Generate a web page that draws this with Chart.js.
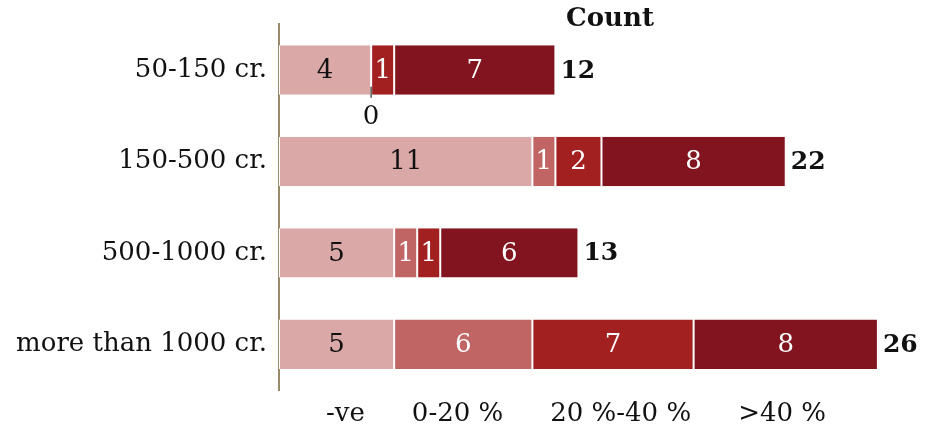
<!DOCTYPE html>
<html>
<head>
<meta charset="utf-8">
<script src="https://cdn.jsdelivr.net/npm/chart.js@4/dist/chart.umd.min.js"></script>
<style>
  html, body { margin: 0; padding: 0; background: #ffffff; }
  #wrap { width: 941px; height: 428px; }
</style>
</head>
<body>
<div id="wrap"><canvas id="chart"></canvas></div>
<script>
// Company size bands and the count of companies per growth bucket
const categories = ['50-150 cr.', '150-500 cr.', '500-1000 cr.', 'more than 1000 cr.'];
const seriesNames = ['-ve', '0-20 %', '20 %-40 %', '>40 %'];
const negative = [4, 11, 5, 5];
const upTo20 = [0, 1, 1, 6];
const from20to40 = [1, 2, 1, 7];
const above40 = [7, 8, 6, 8];
const totals = [12, 22, 13, 26];

const FONT = '"DejaVu Serif", "Liberation Serif", serif';
const colors = ['#dba8a8', '#c06464', '#a32021', '#82141f'];
const labelColors = ['#111111', '#ffffff', '#ffffff', '#ffffff'];

const seriesValues = [negative, upTo20, from20to40, above40];

const datasets = seriesNames.map((name, i) => ({
  label: name,
  data: seriesValues[i],
  backgroundColor: colors[i],
  borderColor: '#ffffff',
  borderWidth: { left: 1, right: 1, top: 0, bottom: 0 },
  borderSkipped: false,
  barPercentage: 0.9,
  categoryPercentage: 0.6
}));

// Value labels inside segments, leader label for empty segments, bold totals at bar ends
const valueLabels = {
  id: 'valueLabels',
  afterDatasetsDraw(chart) {
    const ctx = chart.ctx;
    ctx.save();
    ctx.textBaseline = 'middle';
    chart.data.datasets.forEach((ds, di) => {
      const meta = chart.getDatasetMeta(di);
      meta.data.forEach((el, i) => {
        const v = ds.data[i];
        const { x, y, base, height } = el.getProps(['x', 'y', 'base', 'height'], true);
        ctx.font = '26px ' + FONT;
        if (v > 0) {
          ctx.fillStyle = labelColors[di];
          ctx.textAlign = 'center';
          ctx.fillText(String(v), (x + base) / 2, y + 1);
        } else {
          const bottom = y + height / 2;
          ctx.strokeStyle = '#555555';
          ctx.lineWidth = 1.5;
          ctx.beginPath();
          ctx.moveTo(x, bottom - 8);
          ctx.lineTo(x, bottom + 3);
          ctx.stroke();
          ctx.fillStyle = '#111111';
          ctx.textAlign = 'center';
          ctx.fillText(String(v), x, bottom + 23);
        }
      });
    });
    const lastMeta = chart.getDatasetMeta(chart.data.datasets.length - 1);
    lastMeta.data.forEach((el, i) => {
      ctx.font = 'bold 25px ' + FONT;
      ctx.fillStyle = '#111111';
      ctx.textAlign = 'left';
      ctx.fillText(String(totals[i]), el.x + 5, el.y + 1);
    });
    ctx.restore();
  }
};

new Chart(document.getElementById('chart'), {
  type: 'bar',
  data: { labels: categories, datasets },
  options: {
    indexAxis: 'y',
    responsive: true,
    maintainAspectRatio: false,
    animation: false,
    layout: { padding: { left: 0, right: 0, top: 0, bottom: -9 } },
    scales: {
      x: {
        stacked: true,
        display: false,
        min: 0,
        max: 28.74
      },
      y: {
        stacked: true,
        grid: { display: false, drawTicks: false },
        border: { display: true, color: '#998b69', width: 2 },
        ticks: {
          color: '#111111',
          padding: 12,
          font: { family: FONT, size: 26, lineHeight: 0.95 }
        },
        afterFit(scale) { scale.width = 279; }
      }
    },
    plugins: {
      title: {
        display: true,
        text: 'Count',
        fullSize: false,
        color: '#111111',
        font: { family: FONT, size: 26, weight: 'bold', lineHeight: 0.6 },
        padding: { top: 7, bottom: -3 }
      },
      legend: {
        display: true,
        position: 'bottom',
        align: 'start',
        fullSize: false,
        labels: {
          color: '#111111',
          font: { family: FONT, size: 26 },
          boxWidth: 23,
          boxHeight: 1,
          padding: 11,
          generateLabels(chart) {
            return chart.data.datasets.map((ds, i) => ({
              text: ds.label,
              fillStyle: 'rgba(0,0,0,0)',
              strokeStyle: 'rgba(0,0,0,0)',
              lineWidth: 0,
              fontColor: '#111111',
              datasetIndex: i,
              hidden: false
            }));
          }
        }
      },
      tooltip: { enabled: false }
    }
  },
  plugins: [valueLabels]
});
</script>
</body>
</html>
